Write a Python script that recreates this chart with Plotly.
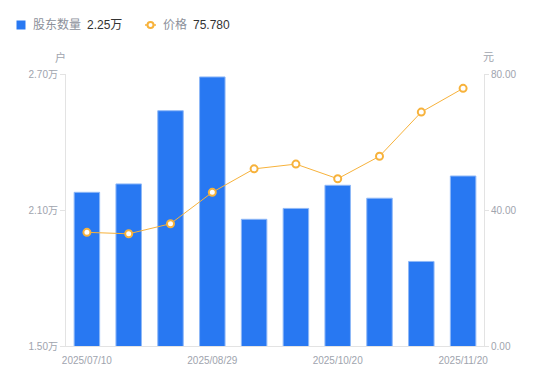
import plotly.graph_objects as go

dates = ["2025/07/10", "2025/07/20", "2025/07/31", "2025/08/29", "2025/09/10",
         "2025/09/30", "2025/10/20", "2025/10/31", "2025/11/10", "2025/11/20"]
holders = [2.178, 2.215, 2.538, 2.687, 2.059, 2.107, 2.209, 2.152, 1.873, 2.25]
price = [33.43, 33.0, 35.96, 45.2, 52.1, 53.5, 49.2, 55.8, 68.8, 75.78]
shown_ticks = [dates[0], dates[3], dates[6], dates[9]]
left_ticks = [1.5, 2.1, 2.7]
left_text = ["1.50万", "2.10万", "2.70万"]
right_ticks = [0, 40, 80]
right_text = ["0.00", "40.00", "80.00"]

BLUE = "#2878f2"
ORANGE = "#f7b23b"
GRAY = "#a0a4ae"
AXIS = "#e3e3e3"
FONT = "Liberation Sans, Arial, Noto Sans CJK SC, sans-serif"

fig = go.Figure()
fig.add_trace(go.Bar(
    x=dates, y=holders,
    marker=dict(color=BLUE, line=dict(color="#8fb8f7", width=1)),
    width=0.61, yaxis="y", showlegend=False,
))
fig.add_trace(go.Scatter(
    x=dates, y=price, mode="lines+markers", yaxis="y2",
    line=dict(color=ORANGE, width=1),
    marker=dict(symbol="circle", size=7, color="white", line=dict(color=ORANGE, width=2)),
    showlegend=False,
))

W, H = 550, 381
L, R, T, B = 66, 66, 74, 35
pw = W - L - R
ph = H - T - B

def px(x):
    return (x - L) / pw

def py(y):
    return (H - B - y) / ph

shapes = [
    dict(type="rect", xref="paper", yref="paper", x0=px(16.5), x1=px(25.5), y0=py(29.5), y1=py(20.5),
         fillcolor=BLUE, line=dict(width=0)),
    dict(type="line", xref="paper", yref="paper", x0=px(145), x1=px(156), y0=py(25), y1=py(25),
         line=dict(color=ORANGE, width=1.5)),
    dict(type="circle", xref="paper", yref="paper", x0=px(147.5), x1=px(153.5), y0=py(28), y1=py(22),
         fillcolor="white", line=dict(color=ORANGE, width=2)),
]

annotations = [
    dict(text="股东数量", x=px(31), y=py(25), xref="paper", yref="paper", xanchor="left", yanchor="middle",
         showarrow=False, font=dict(size=12, color="#8c909a", family=FONT)),
    dict(text="2.25万", x=px(85), y=py(25), xref="paper", yref="paper", xanchor="left", yanchor="middle",
         showarrow=False, font=dict(size=12, color="#333333", family=FONT)),
    dict(text="价格", x=px(161), y=py(25), xref="paper", yref="paper", xanchor="left", yanchor="middle",
         showarrow=False, font=dict(size=12, color="#8c909a", family=FONT)),
    dict(text="75.780", x=px(191), y=py(25), xref="paper", yref="paper", xanchor="left", yanchor="middle",
         showarrow=False, font=dict(size=12, color="#333333", family=FONT)),
    dict(text="户", x=px(60), y=py(57), xref="paper", yref="paper", xanchor="center", yanchor="middle",
         showarrow=False, font=dict(size=11, color=GRAY, family=FONT)),
    dict(text="元", x=px(489), y=py(57), xref="paper", yref="paper", xanchor="center", yanchor="middle",
         showarrow=False, font=dict(size=11, color=GRAY, family=FONT)),
]

fig.update_layout(
    width=W, height=H,
    margin=dict(l=L, r=R, t=T, b=B),
    paper_bgcolor="white", plot_bgcolor="white",
    font=dict(family=FONT, size=10, color=GRAY),
    xaxis=dict(type="category", range=[-0.5, 9.5], tickvals=shown_ticks, ticktext=shown_ticks,
               showgrid=False, showline=True, linecolor=AXIS, linewidth=1,
               ticks="outside", ticklen=5, tickcolor="rgba(0,0,0,0)", tickfont=dict(size=10, color=GRAY)),
    yaxis=dict(range=[1.5, 2.7], tickvals=left_ticks, ticktext=left_text,
               showgrid=False, zeroline=False, showline=True, linecolor=AXIS, linewidth=1,
               ticks="outside", ticklen=5, tickcolor=AXIS, tickfont=dict(size=10, color=GRAY)),
    yaxis2=dict(range=[0, 80], tickvals=right_ticks, ticktext=right_text, overlaying="y", side="right",
                showgrid=False, zeroline=False, showline=True, linecolor=AXIS, linewidth=1,
                ticks="outside", ticklen=4, tickcolor=AXIS, tickfont=dict(size=10, color=GRAY)),
    shapes=shapes, annotations=annotations,
)

fig.write_html("out.html", config={"displayModeBar": False},
               post_script="document.body.style.margin='0';document.body.style.overflow='hidden';")
